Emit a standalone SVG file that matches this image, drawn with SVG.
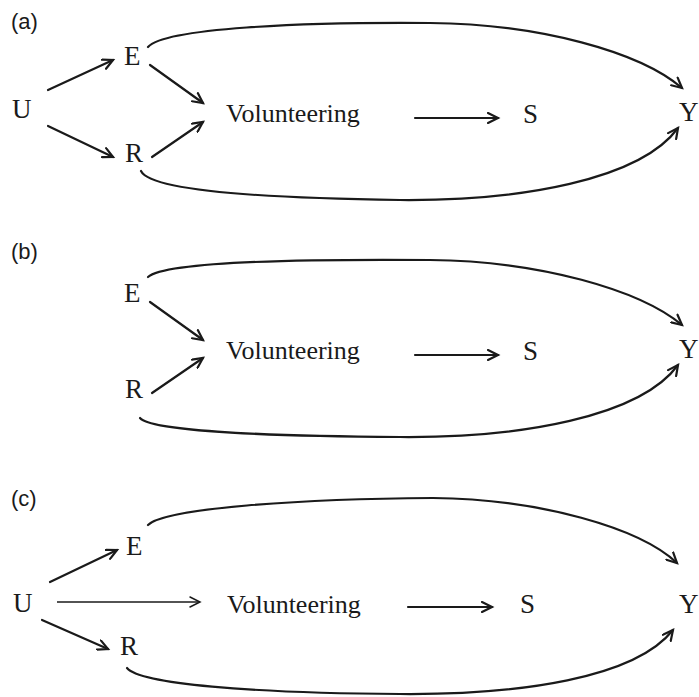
<svg xmlns="http://www.w3.org/2000/svg" width="699" height="697" viewBox="0 0 699 697">
<style>
.lbl{font-family:"Liberation Sans",Arial,sans-serif;font-size:22px;fill:#1a1a1a}
.n{font-family:"Liberation Serif","Times New Roman",serif;font-size:27px;fill:#1a1a1a}
.v{font-family:"Liberation Serif","Times New Roman",serif;font-size:26px;fill:#1a1a1a}
.c{fill:none;stroke:#1a1a1a;stroke-width:2.2;stroke-linecap:round}
.thin{fill:none;stroke:#1a1a1a;stroke-width:1.4}
</style>
<defs>
<marker id="ah" viewBox="0 0 14 12" markerWidth="14" markerHeight="12" refX="11" refY="6" orient="auto" markerUnits="userSpaceOnUse">
<path d="M1,1 L11,6 L1,11" fill="none" stroke="#1a1a1a" stroke-width="2.2" stroke-linecap="round" stroke-linejoin="miter"/>
</marker>
<marker id="aht" viewBox="0 0 14 12" markerWidth="14" markerHeight="12" refX="11" refY="6" orient="auto" markerUnits="userSpaceOnUse">
<path d="M1,1 L11,6 L1,11" fill="none" stroke="#1a1a1a" stroke-width="1.5" stroke-linecap="round"/>
</marker>
</defs>

<!-- Panel labels -->
<text class="lbl" x="11" y="29">(a)</text>
<text class="lbl" x="11" y="259">(b)</text>
<text class="lbl" x="11" y="506">(c)</text>

<!-- Panel (a) nodes -->
<g id="a-U"><text class="n" x="12" y="118">U</text></g>
<g id="a-E"><text class="n" x="124" y="65">E</text></g>
<g id="a-R"><text class="n" x="125" y="162">R</text></g>
<g id="a-Vol"><text class="v" x="226" y="122">Volunteering</text></g>
<g id="a-S"><text class="n" x="523" y="123">S</text></g>
<g id="a-Y"><text class="n" x="679" y="121">Y</text></g>

<!-- Panel (b) nodes -->
<g id="b-E"><text class="n" x="124" y="302">E</text></g>
<g id="b-R"><text class="n" x="125" y="398">R</text></g>
<g id="b-Vol"><text class="v" x="226" y="359">Volunteering</text></g>
<g id="b-S"><text class="n" x="523" y="360">S</text></g>
<g id="b-Y"><text class="n" x="679" y="358">Y</text></g>

<!-- Panel (c) nodes -->
<g id="c-U"><text class="n" x="13" y="612">U</text></g>
<g id="c-E"><text class="n" x="126" y="555">E</text></g>
<g id="c-R"><text class="n" x="120" y="655">R</text></g>
<g id="c-Vol"><text class="v" x="227" y="613">Volunteering</text></g>
<g id="c-S"><text class="n" x="520" y="613">S</text></g>
<g id="c-Y"><text class="n" x="679" y="613">Y</text></g>

<g id="connectors">
<!-- (a) -->
<path class="c" marker-end="url(#ah)" d="M48,90 L113,60"/>
<path class="c" marker-end="url(#ah)" d="M48,126 L113,157"/>
<path class="c" marker-end="url(#ah)" d="M150,65 L203,103"/>
<path class="c" marker-end="url(#ah)" d="M152,157 L203,122"/>
<path class="c" marker-end="url(#ah)" d="M415,118 L498,118"/>
<path class="c" marker-end="url(#ah)" d="M148,47 C165,28 300,22 430,23 C540,24 640,52 682,88"/>
<path class="c" marker-end="url(#ah)" d="M141,171 C150,190 250,198 400,200 C520,201 640,180 678,128"/>
<!-- (b) -->
<path class="c" marker-end="url(#ah)" d="M150,302 L203,340"/>
<path class="c" marker-end="url(#ah)" d="M152,393 L203,358"/>
<path class="c" marker-end="url(#ah)" d="M415,355 L498,355"/>
<path class="c" marker-end="url(#ah)" d="M148,277 C165,262 300,259 430,260 C540,261 640,290 682,325"/>
<path class="c" marker-end="url(#ah)" d="M140,418 C150,430 250,436 400,437 C520,438 640,417 678,365"/>
<!-- (c) -->
<path class="c" marker-end="url(#ah)" d="M50,582 L117,550"/>
<path class="thin" marker-end="url(#aht)" d="M57,602 L200,602"/>
<path class="c" marker-end="url(#ah)" d="M42,620 L108,649"/>
<path class="c" marker-end="url(#ah)" d="M408,607 L492,607"/>
<path class="c" marker-end="url(#ah)" d="M148,525 C165,508 300,499 433,498 C540,499 640,528 677,563"/>
<path class="c" marker-end="url(#ah)" d="M127,668 C140,684 250,693 400,694 C520,695 635,678 673,630"/>
</g>
</svg>
